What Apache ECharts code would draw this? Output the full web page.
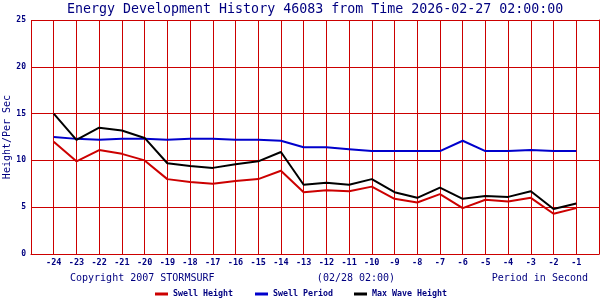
<!DOCTYPE html>
<html>
<head>
<meta charset="utf-8">
<script src="https://cdn.jsdelivr.net/npm/echarts@6/dist/echarts.min.js"></script>
<style>html,body{margin:0;padding:0;background:#fff}#c{width:600px;height:300px}</style>
</head>
<body>
<div id="c"></div>
<script>
var hours = [-24,-23,-22,-21,-20,-19,-18,-17,-16,-15,-14,-13,-12,-11,-10,-9,-8,-7,-6,-5,-4,-3,-2,-1];
var swellHeight = [12.0,9.9,11.1,10.7,10.0,8.0,7.7,7.5,7.8,8.0,8.9,6.6,6.8,6.7,7.2,5.9,5.5,6.4,4.9,5.8,5.6,6.0,4.3,4.9];
var swellPeriod = [12.5,12.3,12.2,12.3,12.3,12.2,12.3,12.3,12.2,12.2,12.1,11.4,11.4,11.2,11.0,11.0,11.0,11.0,12.1,11.0,11.0,11.1,11.0,11.0];
var maxWaveHeight = [15.0,12.2,13.5,13.2,12.4,9.7,9.4,9.2,9.6,9.9,10.9,7.4,7.6,7.4,8.0,6.6,6.0,7.1,5.9,6.2,6.1,6.7,4.8,5.4];
var yTicks = [0,5,10,15,20,25];

var RED = '#cc0000', BLUE = '#0000cc', BLACK = '#000000', NAVY = '#000080';
var MONO = '"DejaVu Sans Mono", "Liberation Mono", monospace';

function pairs(vals){ return hours.map(function(h,i){ return [h, vals[i]]; }); }

var chart = echarts.init(document.getElementById('c'), null, {renderer:'canvas'});
chart.setOption({
  animation: false,
  backgroundColor: '#ffffff',
  title: {
    text: 'Energy Development History 46083 from Time 2026-02-27 02:00:00',
    left: 67, top: 3, padding: 0,
    textStyle: {fontFamily: MONO, fontSize: 13.3, fontWeight: 'normal', color: NAVY}
  },
  grid: {left: 31, right: 1, top: 20, bottom: 46, containLabel: false, outerBoundsMode: 'none'},
  xAxis: {
    type: 'value', min: -25, max: 0, interval: 1,
    axisLine: {show: true, lineStyle: {color: RED, width: 1}},
    axisTick: {show: false},
    splitLine: {show: true, lineStyle: {color: RED, width: 1}},
    axisLabel: {
      margin: 4, fontFamily: MONO, fontSize: 8.5, fontWeight: 'bold', color: NAVY,
      formatter: function(v){ return (v <= -25 || v >= 0) ? '' : String(v); }
    }
  },
  yAxis: {
    type: 'value', min: yTicks[0], max: yTicks[yTicks.length-1], interval: 5,
    name: 'Height/Per Sec', nameLocation: 'middle', nameRotate: 90, nameGap: 19, nameMoveOverlap: false,
    nameTextStyle: {fontFamily: MONO, fontSize: 10, color: NAVY},
    axisLine: {show: true, lineStyle: {color: RED, width: 1}},
    axisTick: {show: false},
    splitLine: {show: true, lineStyle: {color: RED, width: 1, opacity: 1}},
    axisLabel: {margin: 5, fontFamily: MONO, fontSize: 8, fontWeight: 'bold', color: NAVY}
  },
  legend: [
    {data: ['Swell Height'], left: 155, top: 290, padding: 0, itemWidth: 13, itemHeight: 3, icon: 'rect',
     textStyle: {fontFamily: MONO, fontSize: 8.3, fontWeight: 'bold', color: NAVY}},
    {data: ['Swell Period'], left: 255, top: 290, padding: 0, itemWidth: 13, itemHeight: 3, icon: 'rect',
     textStyle: {fontFamily: MONO, fontSize: 8.3, fontWeight: 'bold', color: NAVY}},
    {data: ['Max Wave Height'], left: 354, top: 290, padding: 0, itemWidth: 13, itemHeight: 3, icon: 'rect',
     textStyle: {fontFamily: MONO, fontSize: 8.3, fontWeight: 'bold', color: NAVY}}
  ],
  graphic: [
    {type: 'text', x: 70, y: 278, style: {text: 'Copyright 2007 STORMSURF', font: '10px ' + MONO, fill: NAVY, textAlign: 'left', textVerticalAlign: 'middle'}},
    {type: 'text', x: 356, y: 278, style: {text: '(02/28 02:00)', font: '10px ' + MONO, fill: NAVY, textAlign: 'center', textVerticalAlign: 'middle'}},
    {type: 'text', x: 588, y: 278, style: {text: 'Period in Second', font: '10px ' + MONO, fill: NAVY, textAlign: 'right', textVerticalAlign: 'middle'}}
  ],
  series: [
    {name: 'Swell Height', type: 'line', data: pairs(swellHeight), symbol: 'none', color: RED,
     lineStyle: {color: RED, width: 2}},
    {name: 'Swell Period', type: 'line', data: pairs(swellPeriod), symbol: 'none', color: BLUE,
     lineStyle: {color: BLUE, width: 2}},
    {name: 'Max Wave Height', type: 'line', data: pairs(maxWaveHeight), symbol: 'none', color: BLACK,
     lineStyle: {color: BLACK, width: 2}}
  ]
});
</script>
</body>
</html>
